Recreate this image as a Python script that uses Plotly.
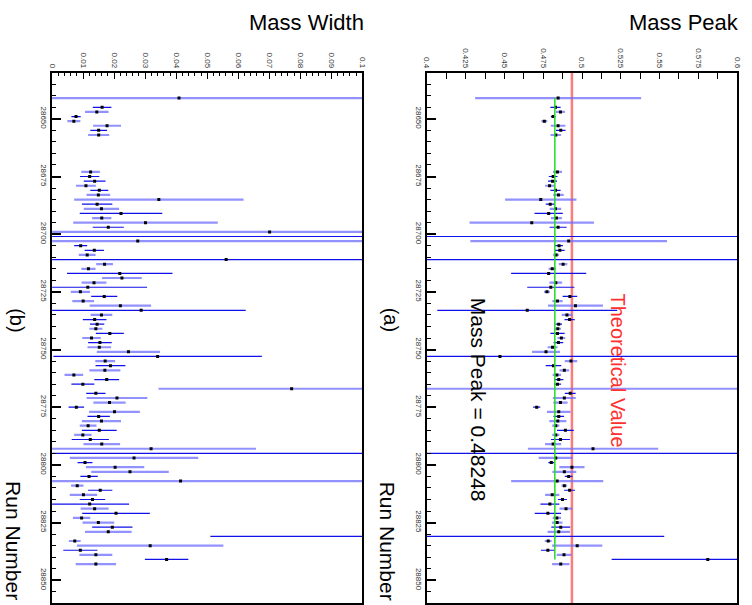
import plotly.graph_objects as go
import numpy as np

runs = [28641, 28645, 28647, 28649, 28651, 28653, 28655, 28657,
        28673, 28675, 28677, 28679, 28681, 28683, 28685, 28687, 28689, 28691, 28693, 28695, 28697, 28699,
        28701, 28703, 28705, 28707, 28709, 28711, 28713, 28715, 28717, 28719, 28721, 28723, 28725, 28727,
        28729, 28731, 28733, 28735, 28737, 28739, 28741, 28743, 28745, 28747, 28749, 28751, 28753, 28755,
        28757, 28759, 28761, 28763, 28765, 28767, 28769, 28771, 28773, 28775, 28777, 28779, 28781, 28783,
        28785, 28787, 28789, 28791, 28793, 28795, 28797, 28799, 28801, 28803, 28805, 28807, 28809, 28811,
        28813, 28815, 28817, 28819, 28821, 28823, 28825, 28827, 28829, 28831, 28833, 28835, 28837, 28839,
        28841, 28843]

mass_peak = [0.4846, 0.4829, 0.4861, 0.4814, 0.4757, 0.4846, 0.4863, 0.4831,
             0.4842, 0.4814, 0.4810, 0.4791, 0.4829, 0.4848, 0.4734, 0.4795, 0.4829, 0.4785, 0.4835, 0.4676, 0.4846, None,
             0.62, 0.4914, 0.4852, 0.4857, 0.4833, 0.62, 0.4878, 0.4808, 0.4785, None, 0.4831, 0.4799, 0.4774, 0.4922,
             0.4842, 0.4958, 0.4647, 0.4903, 0.4920, 0.4850, 0.4844, 0.4842, 0.4867, 0.4848, 0.4810, 0.4768, 0.4471, 0.4929,
             0.4816, 0.4886, 0.4838, 0.4850, 0.4842, 0.62, 0.4924, 0.4886, 0.4861, 0.4708, 0.4850, 0.4850, 0.4844, 0.4831,
             0.4893, 0.4831, 0.4861, 0.4814, 0.5071, 0.62, 0.4831, 0.4802, 0.4935, 0.4886, 0.4914, 0.4840, 0.4886, 0.4920,
             0.4808, 0.4874, 0.4793, 0.4897, 0.4780, 0.4838, 0.4840, 0.4863, 0.4850, 0.39, 0.4782, 0.4969, 0.4780, 0.4884,
             0.5811, 0.4863]

mass_peak_err = [0.0535, 0.0033, 0.0029, 0.0015, 0.0019, 0.0047, 0.0031, 0.0034,
                 0.0029, 0.0028, 0.0029, 0.0029, 0.0033, 0.0034, 0.0230, 0.0029, 0.0037, 0.0091, 0.0035, 0.0401, 0.0055, None,
                 0.30, 0.0634, 0.0025, 0.0031, 0.0019, 0.30, 0.0027, 0.0023, 0.0242, None, 0.0041, 0.0152, 0.0019, 0.0047,
                 0.0033, 0.0177, 0.0580, 0.0034, 0.0033, 0.0021, 0.0021, 0.0046, 0.0025, 0.0031, 0.0032, 0.0090, 0.16, 0.0040,
                 0.0050, 0.0031, 0.0027, 0.0030, 0.0023, 0.30, 0.0035, 0.0074, 0.0046, 0.0023, 0.0076, 0.0034, 0.0055, 0.0023,
                 0.0054, 0.0023, 0.0061, 0.0052, 0.0420, 0.30, 0.0110, 0.0019, 0.0081, 0.0077, 0.0025, 0.0297, 0.0018, 0.0035,
                 0.0046, 0.0029, 0.0061, 0.0042, 0.0085, 0.0027, 0.0034, 0.0061, 0.0072, 0.163, 0.0022, 0.0162, 0.0045, 0.0047,
                 0.0620, 0.0056]

mass_width = [0.0409, 0.0161, 0.0144, 0.0077, 0.0070, 0.0177, 0.0150, 0.0150,
              0.0124, 0.0121, 0.0137, 0.0109, 0.0152, 0.0149, 0.0344, 0.0145, 0.0159, 0.0222, 0.0160, 0.0301, 0.0181, 0.0701,
              0.11, 0.0276, 0.0092, 0.0136, 0.0113, 0.0561, 0.0169, 0.0117, 0.0218, 0.0225, 0.0135, 0.0115, 0.0091, 0.0168,
              0.0100, 0.0220, 0.0287, 0.0159, 0.0137, 0.0145, 0.0141, 0.0186, 0.0127, 0.0154, 0.0152, 0.0246, 0.0340, 0.0171,
              0.0188, 0.0170, 0.0070, 0.0176, 0.0099, 0.0772, 0.0141, 0.0209, 0.0185, 0.0078, 0.0201, 0.0150, 0.0159, 0.0116,
              0.0152, 0.0099, 0.0123, 0.0160, 0.0319, 0.11, 0.0264, 0.0106, 0.0203, 0.0251, 0.0119, 0.0414, 0.0081, 0.0155,
              0.0101, 0.0130, 0.0121, 0.0137, 0.0206, 0.0095, 0.0149, 0.0194, 0.0181, 0.11, 0.0073, 0.0316, 0.0091, 0.0141,
              0.0369, 0.0141]

mass_width_err = [0.065, 0.0030, 0.0038, 0.0015, 0.0021, 0.0045, 0.0027, 0.0034,
                  0.0030, 0.0031, 0.0035, 0.0032, 0.0029, 0.0038, 0.0273, 0.0049, 0.0057, 0.0133, 0.0031, 0.0233, 0.0050, 0.080,
                  0.20, 0.080, 0.0021, 0.0031, 0.0027, 0.060, 0.0027, 0.0023, 0.0170, 0.0064, 0.0040, 0.0191, 0.0031, 0.0042,
                  0.0035, 0.0099, 0.0337, 0.0035, 0.0038, 0.0023, 0.0021, 0.0045, 0.0030, 0.0038, 0.0038, 0.0102, 0.0336, 0.0032,
                  0.0048, 0.0050, 0.0030, 0.0040, 0.0037, 0.0429, 0.0031, 0.0098, 0.0052, 0.0025, 0.0082, 0.0036, 0.0063, 0.0027,
                  0.0056, 0.0028, 0.0060, 0.0059, 0.0338, 0.20, 0.0207, 0.0024, 0.0094, 0.0125, 0.0028, 0.065, 0.0020, 0.0039,
                  0.0044, 0.0041, 0.0127, 0.0045, 0.0109, 0.0028, 0.0051, 0.0065, 0.0075, 0.059, 0.0019, 0.0236, 0.0055, 0.0053,
                  0.0070, 0.0065]

# 1 = light (thick, pale blue) error bar, 0 = dark (thin, blue)
bar_style = [1, 0, 1, 0, 1, 1, 0, 1,
             1, 0, 0, 1, 0, 1, 1, 0, 1, 0, 1, 1, 0, 1,
             0, 1, 0, 0, 1, 0, 1, 1, 0, 1, 1, 0, 1, 0,
             1, 1, 0, 1, 0, 0, 1, 0, 1, 0, 1, 1, 0, 1,
             0, 1, 1, 0, 0, 1, 0, 1, 1, 0, 1, 0, 1, 1,
             0, 1, 0, 1, 1, 0, 1, 0, 1, 1, 0, 1, 1, 0,
             1, 0, 0, 1, 0, 1, 1, 0, 1, 0, 1, 1, 0, 1,
             0, 1]

mean_peak = 0.48248
theoretical = 0.4935
run_tick_vals = [28650, 28675, 28700, 28725, 28750, 28775, 28800, 28825, 28850]
run_tick_text = ["28650", "28675", "28700", "28725", "28750", "28775", "28800", "28825", "28850"]
peak_tick_vals = [0.4, 0.425, 0.45, 0.475, 0.5, 0.525, 0.55, 0.575, 0.6]
peak_tick_text = ["0.4", "0.425", "0.45", "0.475", "0.5", "0.525", "0.55", "0.575", "0.6"]
width_tick_vals = [0, 0.01, 0.02, 0.03, 0.04, 0.05, 0.06, 0.07, 0.08, 0.09, 0.1]
width_tick_text = ["0", "0.01", "0.02", "0.03", "0.04", "0.05", "0.06", "0.07", "0.08", "0.09", "0.1"]

runs_a = np.array(runs, dtype=float)
style_a = np.array(bar_style)

def arr(v):
    return np.array([np.nan if x is None else x for x in v], dtype=float)

pk, pke, wd, wde = arr(mass_peak), arr(mass_peak_err), arr(mass_width), arr(mass_width_err)

DARK = "#1010e8"
LIGHT = "rgba(110,110,255,0.75)"

fig = go.Figure()

def add_series(xv, xe, xaxis, yaxis):
    for s, col, th in [(1, LIGHT, 2.2), (0, DARK, 1.2)]:
        m = style_a == s
        fig.add_trace(go.Scatter(
            x=xv[m], y=runs_a[m], mode="markers",
            marker=dict(symbol="square", size=3, color="black"),
            error_x=dict(type="data", array=xe[m], color=col, thickness=th, width=0),
            xaxis=xaxis, yaxis=yaxis, showlegend=False, hoverinfo="skip"))

# Panel (b): Mass Width (left)
add_series(wd, wde, "x", "y")
# Panel (a): Mass Peak (right)
fig.add_trace(go.Scatter(x=[theoretical, theoretical], y=[28630, 28860], mode="lines",
                         line=dict(color="rgba(255,100,100,0.85)", width=2.5),
                         xaxis="x2", yaxis="y2", showlegend=False, hoverinfo="skip"))
add_series(pk, pke, "x2", "y2")
fig.add_trace(go.Scatter(x=[mean_peak, mean_peak], y=[runs[0], runs[-2]], mode="lines",
                         line=dict(color="#22dd22", width=1.5),
                         xaxis="x2", yaxis="y2", showlegend=False, hoverinfo="skip"))

tickfont = dict(family="Liberation Sans, Arial, sans-serif", size=8, color="#333")
ydom = [1 - 603.3 / 605, 1 - 72.7 / 605]

common_y = dict(range=[28860, 28630], tickmode="array", tickvals=run_tick_vals, ticktext=run_tick_text,
                ticks="inside", ticklen=9, tickwidth=1.5, tickcolor="black",
                tickangle=90, tickfont=tickfont, showgrid=False, zeroline=False,
                showline=True, linecolor="black", linewidth=1.5, mirror=True,
                minor=dict(dtick=5, tick0=28650, ticks="inside", ticklen=4.5, tickcolor="black", tickwidth=1),
                domain=ydom)

common_x = dict(side="top", ticks="inside", ticklen=7, tickwidth=1, tickcolor="black",
                tickangle=90, tickfont=tickfont, showgrid=False, zeroline=False,
                showline=True, linecolor="black", linewidth=1.5, mirror=True, tickmode="array")

fig.update_layout(
    width=752, height=605, margin=dict(l=0, r=0, t=0, b=0),
    paper_bgcolor="white", plot_bgcolor="white",
    font=dict(family="Liberation Sans, Arial, sans-serif"),
    xaxis=dict(common_x, domain=[47.7 / 752, 361.7 / 752], range=[0, 0.1], anchor="y",
               tickvals=width_tick_vals, ticktext=width_tick_text,
               minor=dict(dtick=0.002, tick0=0, ticks="inside", ticklen=4, tickcolor="black", tickwidth=1)),
    yaxis=dict(common_y, anchor="x"),
    xaxis2=dict(common_x, domain=[427 / 752, 741 / 752], range=[0.4, 0.6], anchor="y2",
                tickvals=peak_tick_vals, ticktext=peak_tick_text,
                minor=dict(dtick=0.0125, tick0=0.4, ticks="inside", ticklen=7, tickcolor="black", tickwidth=1)),
    yaxis2=dict(common_y, anchor="x2"),
)

def ann(text, x, y, angle=90, color="black", size=21):
    fig.add_annotation(text=text, x=x / 752, y=1 - y / 605, xref="paper", yref="paper",
                       showarrow=False, textangle=angle, xanchor="center", yanchor="middle",
                       font=dict(family="Liberation Sans, Arial, sans-serif", size=size, color=color))

ann("Mass Peak", 687, 22, angle=0, size=22)
ann("Mass Width", 305, 22, angle=0, size=22)
ann("Theoretical Value", 620, 370, color="#ff3030", size=20)
ann("Mass Peak = 0.48248", 480, 400, size=21)
ann("(a)", 391, 320, size=20)
ann("(b)", 12, 320, size=20)
ann("Run Number", 388, 541, size=21)
ann("Run Number", 9, 541, size=21)

fig.write_html("out.html", config={"displayModeBar": False},
               post_script="document.body.style.margin='0px';document.body.style.overflow='hidden';")
